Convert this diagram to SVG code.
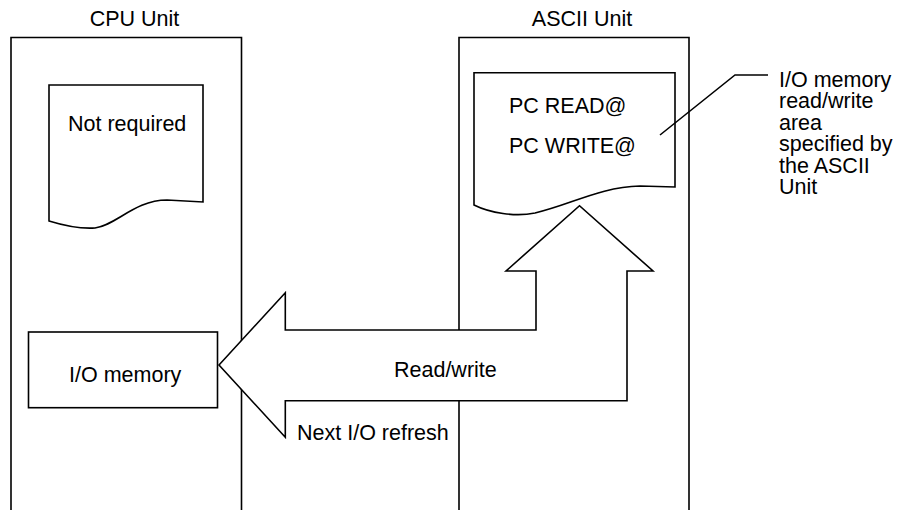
<svg xmlns="http://www.w3.org/2000/svg" width="906" height="510" viewBox="0 0 906 510">
<style>
.s{fill:#fff;stroke:#000;stroke-width:1.6;stroke-linejoin:miter}
.l{fill:none;stroke:#000;stroke-width:1.6}
text{font-family:"Liberation Sans",Arial,Helvetica,sans-serif;font-size:21.5px;fill:#000}
</style>
<rect width="906" height="510" fill="#fff"/>
<g id="cpu-unit">
<path class="l" d="M11,520 V37.5 H241.5 V520"/>
<text x="134.5" y="26" text-anchor="middle">CPU Unit</text>
</g>
<g id="ascii-unit">
<path class="l" d="M459,520 V37.5 H689 V520"/>
<text x="582" y="26" text-anchor="middle">ASCII Unit</text>
</g>
<g id="not-required">
<path class="s" d="M49,221 V85 H203 V202 L167,200 C135,200 115,226 95,228 C80,229 62,225 49,221 Z"/>
<text x="68" y="131">Not required</text>
</g>
<g id="ascii-doc">
<path class="s" d="M474,205 V72.7 H675 V187 L640,186 C600,187 570,205 535,213 C515,217 490,213 474,205 Z"/>
<text x="509" y="113">PC READ@</text>
<text x="509" y="153">PC WRITE@</text>
</g>
<g id="io-memory">
<rect class="s" x="28.5" y="332" width="189" height="75.7"/>
<text x="69" y="381.7">I/O memory</text>
</g>
<g id="connectors">
<path class="s" d="M219,365 L285.3,292.7 V330 H536 V271 H506 L579.5,205.7 L653,271 H627 V400.7 H285.3 V437.3 Z"/>
<text x="394" y="376.7">Read/write</text>
<text x="297" y="440">Next I/O refresh</text>
<polyline class="l" points="660,135 735,75 768,75"/>
</g>
<g id="area-note">
<text x="779" y="86.7">I/O memory</text>
<text x="779" y="108">read/write</text>
<text x="779" y="129.5">area</text>
<text x="779" y="151">specified by</text>
<text x="779" y="172.5">the ASCII</text>
<text x="779" y="194">Unit</text>
</g>
</svg>
